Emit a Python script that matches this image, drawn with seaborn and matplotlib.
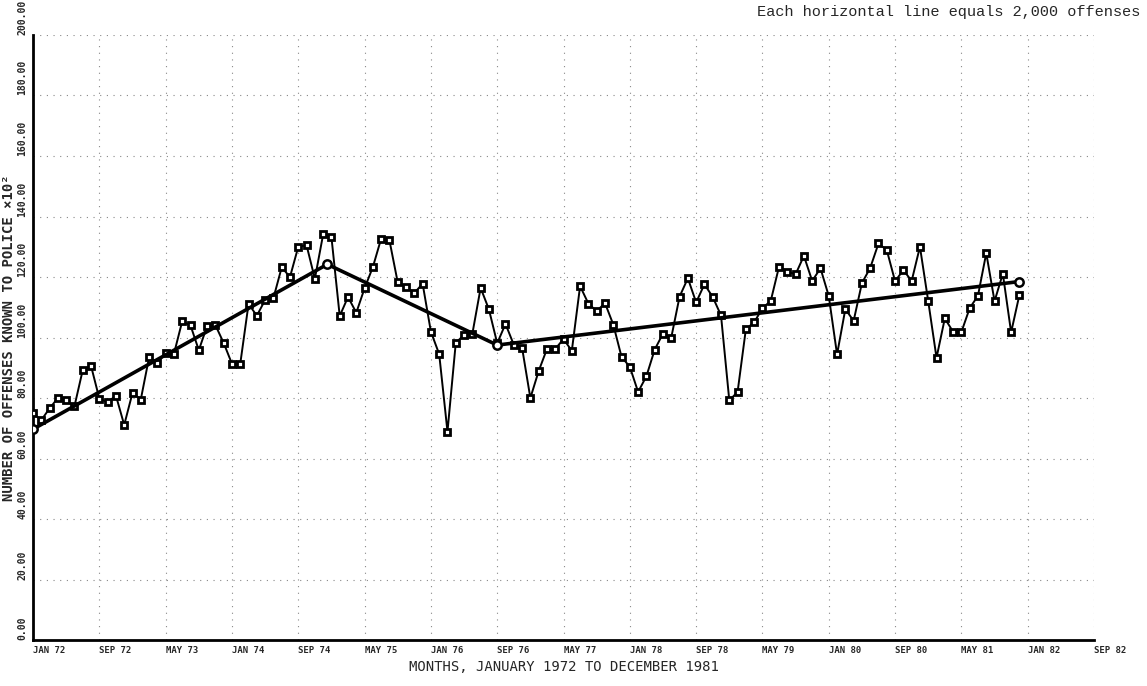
import matplotlib
matplotlib.use("Agg")
import matplotlib.pyplot as plt
import matplotlib.transforms as mtransforms
import seaborn as sns
import pandas as pd

# Monthly offenses known to police (hundreds), Jan 1972 .. Dec 1981
offenses = [
    74.9, 72.7, 76.6, 80.0, 79.2, 77.3, 89.3, 90.6, 79.8, 78.6, 80.8, 71.1,
    81.7, 79.5, 93.4, 91.7, 94.8, 94.6, 105.4, 104.0, 95.8, 103.8, 104.1, 98.2,
    91.3, 91.3, 111.1, 107.2, 112.4, 113.0, 123.2, 120.0, 130.0, 130.5, 119.4, 134.1,
    133.2, 107.1, 113.4, 108.2, 116.3, 123.3, 132.7, 132.1, 118.2, 116.6, 114.7, 117.8,
    101.9, 94.5, 68.9, 98.2, 100.9, 101.2, 116.4, 109.3, 98.1, 104.5, 97.6, 96.6,
    80.0, 88.9, 96.2, 96.2, 99.5, 95.6, 117.0, 111.2, 108.7, 111.4, 104.3, 93.6,
    90.3, 82.0, 87.2, 96.0, 101.3, 100.0, 113.5, 119.6, 111.6, 117.6, 113.4, 107.3,
    79.2, 82.0, 102.8, 105.0, 109.7, 112.1, 123.4, 121.8, 120.9, 127.0, 118.7, 122.9,
    113.7, 94.4, 109.4, 105.5, 118.0, 123.0, 131.1, 128.9, 118.6, 122.3, 118.7, 130.0,
    112.0, 93.3, 106.3, 101.9, 101.8, 109.7, 113.8, 127.9, 112.0, 121.1, 101.7, 114.1,
]
months = list(range(len(offenses)))

# Piecewise linear trend (knots)
trend_months = [0, 35.5, 56, 119]
trend_values = [69.7, 124.2, 97.5, 118.5]

# Axis ticks
x_ticks = list(range(0, 129, 8))
x_labels = ["JAN 72", "SEP 72", "MAY 73", "JAN 74", "SEP 74", "MAY 75",
            "JAN 76", "SEP 76", "MAY 77", "JAN 78", "SEP 78", "MAY 79",
            "JAN 80", "SEP 80", "MAY 81", "JAN 82", "SEP 82"]
y_ticks = list(range(0, 201, 20))
y_labels = [f"{v:.2f}" for v in y_ticks]

sns.set_style("white")
plt.rcParams["font.family"] = ["DejaVu Sans Mono", "DejaVu Sans"]

fig = plt.figure(figsize=(11.47, 6.86), dpi=100)
ax = fig.add_axes([0.0288, 0.067, 0.925, 0.882])

df = pd.DataFrame({"month": months, "offenses": offenses})
tr = pd.DataFrame({"month": trend_months, "value": trend_values})

sns.lineplot(data=df, x="month", y="offenses", ax=ax, color="black",
             linewidth=1.4, marker="s", markersize=5,
             markerfacecolor="white", markeredgecolor="black",
             markeredgewidth=2.0, zorder=3)
sns.lineplot(data=tr, x="month", y="value", ax=ax, color="black",
             linewidth=2.6, marker="o", markersize=6,
             markerfacecolor="white", markeredgecolor="black",
             markeredgewidth=1.8, zorder=4)

ax.set_xlim(0, 128)
ax.set_ylim(0, 200)

ax.set_xticks(x_ticks)
ax.set_xticklabels(x_labels, fontsize=6.5, fontweight="bold", ha="left")
offset = mtransforms.ScaledTranslation(-5 / 100, 0, fig.dpi_scale_trans)
for lab in ax.get_xticklabels():
    lab.set_transform(lab.get_transform() + offset)

ax.set_yticks(y_ticks)
ax.set_yticklabels(y_labels, fontsize=7, fontweight="bold",
                   rotation=90, va="bottom")

ax.tick_params(axis="both", direction="inout", length=6, width=1.2,
               color="black", pad=1)

ax.grid(True, color="#888888", linestyle=(0, (1, 5)), linewidth=0.8)

for side in ("top", "right"):
    ax.spines[side].set_visible(False)
for side in ("left", "bottom"):
    ax.spines[side].set_color("black")
    ax.spines[side].set_linewidth(2.0)

ax.set_xlabel("MONTHS, JANUARY 1972 TO DECEMBER 1981", fontsize=10,
              labelpad=4)
ax.set_ylabel("NUMBER OF OFFENSES KNOWN TO POLICE ×10²", fontsize=10,
              fontweight="bold", labelpad=1)

fig.text(0.994, 0.983, "Each horizontal line equals 2,000 offenses",
         ha="right", va="center", fontsize=11,
         family=["Liberation Mono", "DejaVu Sans Mono"])

fig.savefig("out.png", dpi=100, facecolor="white")
